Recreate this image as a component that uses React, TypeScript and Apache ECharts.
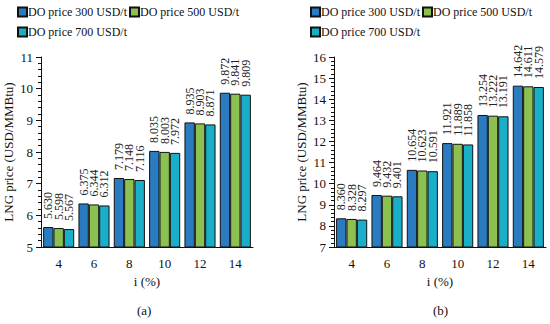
import React, { useEffect, useRef } from "react";
import * as echarts from "echarts";

const categories = ["4", "6", "8", "10", "12", "14"];
const seriesNames = ["DO price 300 USD/t", "DO price 500 USD/t", "DO price 700 USD/t"];
const colors = ["#2A7BC0", "#8CC152", "#19AFC9"];

const aDo300 = [5.63, 6.375, 7.179, 8.035, 8.935, 9.872];
const aDo500 = [5.598, 6.344, 7.148, 8.003, 8.903, 9.841];
const aDo700 = [5.567, 6.312, 7.116, 7.972, 8.871, 9.809];

const bDo300 = [8.36, 9.464, 10.654, 11.921, 13.254, 14.642];
const bDo500 = [8.328, 9.432, 10.623, 11.889, 13.222, 14.611];
const bDo700 = [8.297, 9.401, 10.591, 11.858, 13.191, 14.579];

const FONT = "'Liberation Serif', 'Times New Roman', serif";

export default function App() {
  const ref = useRef<HTMLDivElement>(null);
  useEffect(() => {
    document.body.style.margin = "0";
    const chart = echarts.init(ref.current!, null, { renderer: "svg" });
    const textStyle = { fontFamily: FONT, fontSize: 13, color: "#111" };
    const mkSeries = (data: number[], idx: number, axis: number) => ({
      name: seriesNames[idx],
      type: "bar",
      xAxisIndex: axis,
      yAxisIndex: axis,
      data,
      barGap: "0%",
      barCategoryGap: "12%",
      itemStyle: { color: colors[idx], borderColor: "#111", borderWidth: 1 },
      label: {
        show: true,
        position: "top",
        rotate: 90,
        align: "left",
        verticalAlign: "middle",
        distance: 8,
        fontFamily: FONT,
        fontSize: 12,
        color: "#222",
        formatter: (p: any) => Number(p.value).toFixed(3),
      },
    });
    const xAxis = (gi: number) => ({
      type: "category",
      gridIndex: gi,
      data: categories,
      name: "i (%)",
      nameLocation: "middle",
      nameGap: 28,
      nameTextStyle: textStyle,
      axisLine: { lineStyle: { color: "#111", width: 1 } },
      axisTick: { show: false },
      axisLabel: { ...textStyle, margin: 10 },
    });
    const yAxis = (gi: number, min: number, max: number) => ({
      type: "value",
      gridIndex: gi,
      min,
      max,
      interval: 1,
      name: "LNG price (USD/MMBtu)",
      nameLocation: "middle",
      nameGap: 26,
      nameTextStyle: textStyle,
      axisLine: { show: true, lineStyle: { color: "#111", width: 1 } },
      axisTick: { show: true, inside: false, length: 5, lineStyle: { color: "#111" } },
      minorTick: { show: true, splitNumber: 5, length: 3, lineStyle: { color: "#111" } },
      splitLine: { show: false },
      axisLabel: { ...textStyle, margin: 8 },
    });
    const legendBase = {
      itemWidth: 9,
      itemHeight: 9,
      itemGap: 2,
      icon: "rect",
      textStyle: { fontFamily: FONT, fontSize: 12, color: "#111", padding: [0, 0, 0, -4] },
      padding: 0,
    };
    chart.setOption({
      animation: false,
      textStyle: { fontFamily: FONT },
      legend: [
        { ...legendBase, data: [seriesNames[0], seriesNames[1]], left: 17, top: 6 },
        { ...legendBase, data: [seriesNames[2]], left: 17, top: 26 },
        { ...legendBase, data: [seriesNames[0], seriesNames[1]], left: 310, top: 6 },
        { ...legendBase, data: [seriesNames[2]], left: 310, top: 26 },
      ],
      grid: [
        { left: 41, width: 212, top: 57, height: 190 },
        { left: 334, width: 212, top: 57, height: 190 },
      ],
      xAxis: [xAxis(0), xAxis(1)],
      yAxis: [yAxis(0, 5, 11), yAxis(1, 7, 16)],
      series: [
        mkSeries(aDo300, 0, 0),
        mkSeries(aDo500, 1, 0),
        mkSeries(aDo700, 2, 0),
        mkSeries(bDo300, 0, 1),
        mkSeries(bDo500, 1, 1),
        mkSeries(bDo700, 2, 1),
      ],
      graphic: [
        { type: "text", left: 137, top: 304, style: { text: "(a)", font: `13px ${FONT}`, fill: "#111" } },
        { type: "text", left: 433, top: 304, style: { text: "(b)", font: `13px ${FONT}`, fill: "#111" } },
      ],
    });
    return () => chart.dispose();
  }, []);
  return <div ref={ref} style={{ width: 550, height: 324 }} />;
}
